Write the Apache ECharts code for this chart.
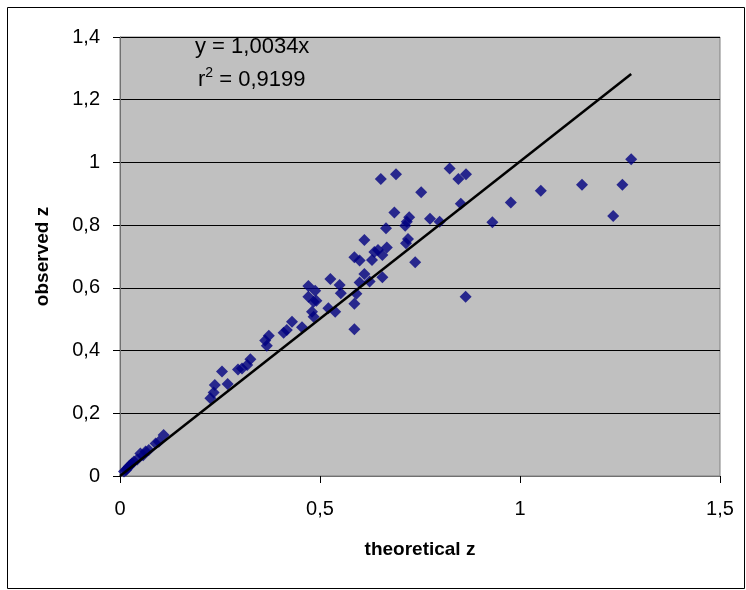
<!DOCTYPE html>
<html>
<head>
<meta charset="utf-8">
<script src="https://cdn.jsdelivr.net/npm/echarts@6/dist/echarts.min.js"></script>
<style>
html,body{margin:0;padding:0;background:#fff;}
#chart{width:746px;height:590px;}
</style>
</head>
<body>
<div id="chart"></div>
<script>
// Data
var theoreticalZ = [
  0.010,0.015,0.018,0.022,0.026,0.030,0.035,0.043,0.051,0.058,0.064,0.072,0.089,0.097,0.109,
  0.226,0.234,0.237,0.269,0.255,0.295,0.305,0.318,0.326,0.363,0.372,0.367,0.409,0.417,0.430,
  0.455,0.471,0.471,0.488,0.484,0.480,0.484,0.491,0.526,0.521,0.538,0.549,0.552,
  0.586,0.599,0.611,0.599,0.591,0.586,0.586,0.611,0.624,0.630,0.636,0.645,0.656,0.656,0.667,
  0.665,0.713,0.720,0.715,0.738,0.775,0.799,0.864,0.931,
  0.652,0.690,0.824,0.846,0.865,0.753,0.852,0.686,0.723,0.717,
  0.977,1.052,1.155,1.256,1.233,1.278
];
var observedZ = [
  0.014,0.018,0.024,0.030,0.035,0.040,0.046,0.053,0.072,0.066,0.078,0.083,0.104,0.109,0.131,
  0.248,0.266,0.290,0.293,0.333,0.340,0.343,0.354,0.372,0.432,0.447,0.415,0.457,0.466,0.492,
  0.474,0.606,0.572,0.591,0.556,0.524,0.508,0.559,0.628,0.535,0.524,0.609,0.583,
  0.698,0.687,0.644,0.617,0.581,0.549,0.468,0.753,0.620,0.689,0.714,0.721,0.705,0.634,0.729,
  0.790,0.798,0.756,0.742,0.682,0.820,0.811,0.572,0.809,
  0.947,0.962,0.981,0.947,0.962,0.905,0.868,0.840,0.825,0.811,
  0.872,0.910,0.929,0.929,0.829,1.010
];
var trendSlope = 1.0034;
var trendRange = [0, 1.278];
var equationText = 'y = 1,0034x';
var r2Value = '0,9199';
var xTitle = 'theoretical z';
var yTitle = 'observed z';

var points = theoreticalZ.map(function(x, i){ return [x, observedZ[i]]; });
var trend = trendRange.map(function(x){ return [x, trendSlope * x]; });
function fmt(v){ return String(v).replace('.', ','); }

var chart = echarts.init(document.getElementById('chart'), null, {renderer:'canvas'});
chart.setOption({
  animation: false,
  backgroundColor: '#fff',
  textStyle: {fontFamily: 'Liberation Sans, Arial, sans-serif'},
  grid: {left: 120, right: 26, top: 37, bottom: 114, show: true,
         backgroundColor: '#C0C0C0', borderColor: '#808080', borderWidth: 1},
  xAxis: {
    type: 'value', min: 0, max: 1.5, interval: 0.5,
    axisLine: {show: true, onZero: false, lineStyle: {color: '#707070', width: 1}},
    axisTick: {show: true, inside: false, length: 7, lineStyle: {color: '#000'}},
    axisLabel: {formatter: fmt, fontSize: 20, color: '#000', margin: 23, fontFamily: 'Liberation Sans'},
    splitLine: {show: false},
    name: xTitle, nameLocation: 'middle', nameGap: 64,
    nameTextStyle: {fontSize: 19, fontWeight: 'bold', color: '#000', fontFamily: 'Liberation Sans'}
  },
  yAxis: {
    type: 'value', min: 0, max: 1.4, interval: 0.2,
    axisLine: {show: true, onZero: false, lineStyle: {color: '#707070', width: 1}},
    axisTick: {show: true, inside: false, length: 7, lineStyle: {color: '#000'}},
    axisLabel: {formatter: fmt, fontSize: 20, color: '#000', margin: 20, fontFamily: 'Liberation Sans'},
    splitLine: {show: true, lineStyle: {color: '#000', width: 1}},
    name: yTitle, nameLocation: 'middle', nameGap: 68, nameRotate: 90,
    nameTextStyle: {fontSize: 19, fontWeight: 'bold', color: '#000', fontFamily: 'Liberation Sans'}
  },
  series: [
    {
      type: 'scatter', data: points, symbol: 'diamond', symbolSize: 12,
      itemStyle: {color: '#000080'}, z: 3
    },
    {
      type: 'line', data: trend, symbol: 'none', lineStyle: {color: '#000', width: 2.5},
      z: 4, silent: true
    }
  ],
  graphic: [
    {type: 'rect', left: 5, top: 5, shape: {width: 737, height: 581},
     style: {fill: 'none', stroke: '#000', lineWidth: 1}, silent: true},
    {type: 'text', left: 195, top: 36,
     style: {text: equationText, fontSize: 22, fill: '#000', fontFamily: 'Liberation Sans'}},
    {type: 'text', left: 198, top: 66,
     style: {text: '{a|r}{s|2}{a| = ' + r2Value + '}', fill: '#000', fontFamily: 'Liberation Sans',
       rich: {a: {fontSize: 22, fontFamily: 'Liberation Sans', verticalAlign: 'bottom'},
              s: {fontSize: 14, fontFamily: 'Liberation Sans', verticalAlign: 'top', padding: [0,0,11,0]}}}}
  ]
});
</script>
</body>
</html>
